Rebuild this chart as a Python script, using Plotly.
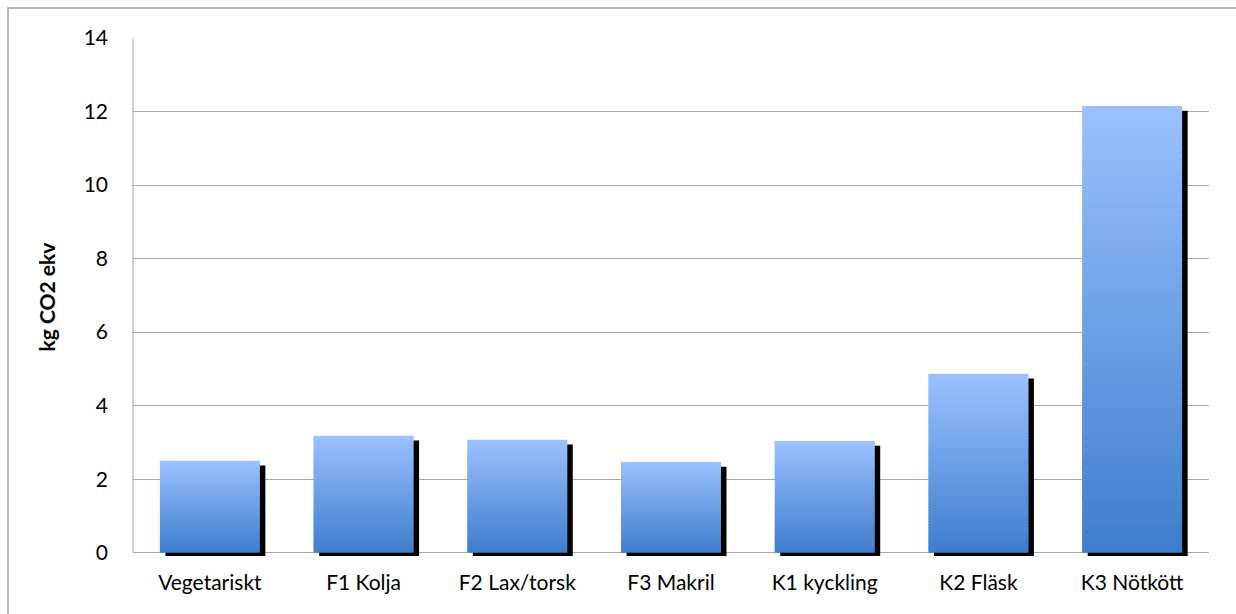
import plotly.graph_objects as go

categories = ["Vegetariskt", "F1 Kolja", "F2 Lax/torsk", "F3 Makril",
              "K1 kyckling", "K2 Fläsk", "K3 Nötkött"]
values = [2.50, 3.18, 3.07, 2.47, 3.04, 4.87, 12.15]
y_ticks = [0, 2, 4, 6, 8, 10, 12, 14]

TOP = (155, 193, 255)
BOTTOM = (62, 125, 204)
N = 60
BAR_W = 0.65
FONT = "Lato, Open Sans, sans-serif"
FS = 21

fig = go.Figure()

# shadow
fig.add_trace(go.Bar(
    x=categories, y=[v - 0.04 for v in values], base=[-0.09] * len(values),
    width=BAR_W, offset=-BAR_W / 2 + 0.036,
    marker=dict(color="black", line=dict(width=0)), hoverinfo="skip", showlegend=False))

# gradient bars built from stacked segments
xs, bases, hs, cols = [], [], [], []
for c, v in zip(categories, values):
    for k in range(N):
        t = (k + 0.5) / N
        col = tuple(round(BOTTOM[i] + (TOP[i] - BOTTOM[i]) * t) for i in range(3))
        xs.append(c)
        bases.append(v * k / N)
        hs.append(v / N * (1.0 if k == N - 1 else 1.6))
        cols.append("rgb(%d,%d,%d)" % col)
fig.add_trace(go.Bar(
    x=xs, y=hs, base=bases, width=BAR_W, offset=-BAR_W / 2,
    marker=dict(color=cols, line=dict(width=0)), hoverinfo="skip", showlegend=False))

# plot area px: left 133, right 1209, top 38, bottom 556
L, R, T, B = 133, 1209, 38, 556
pw, ph = R - L, B - T

fig.update_layout(
    width=1236, height=614,
    margin=dict(l=L, r=1236 - R, t=T, b=614 - B, pad=0),
    barmode="overlay", bargap=0.35,
    plot_bgcolor="white", paper_bgcolor="white",
    font=dict(family=FONT, size=FS, color="black"),
    showlegend=False,
    xaxis=dict(showgrid=False, showline=False, zeroline=False, ticks="",
               ticklabelstandoff=12,
               tickfont=dict(size=FS, family=FONT, color="black"), fixedrange=True),
    yaxis=dict(range=[-0.09, 14.0], tickvals=y_ticks, ticktext=[str(t) for t in y_ticks],
               showgrid=True, gridcolor="#a6a6a6", gridwidth=1, zeroline=False,
               showline=False, ticks="", ticklabelstandoff=24,
               tickfont=dict(size=FS, family=FONT, color="black"),
               title=dict(text="<b>kg CO2 ekv</b>", font=dict(size=FS, family=FONT, color="black"),
                          standoff=22)),
    shapes=[
        dict(type="line", xref="paper", yref="y", x0=0, x1=0, y0=0, y1=14,
             line=dict(color="#a6a6a6", width=1), layer="below"),
        dict(type="rect", xref="paper", yref="paper",
             x0=(8 - L) / pw, x1=1.2, y0=-0.5, y1=(B - 8) / ph,
             line=dict(color="#b8b8b8", width=2), fillcolor="rgba(0,0,0,0)", layer="below"),
    ],
)

fig.write_html("out.html")
